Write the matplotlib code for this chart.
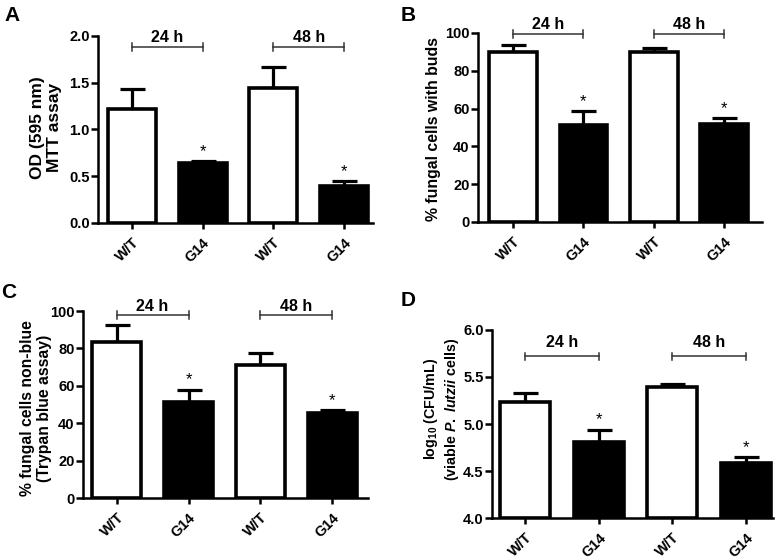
import matplotlib
matplotlib.use("Agg")
import matplotlib.pyplot as plt
import numpy as np

plt.rcParams['font.family'] = ['Liberation Sans', 'DejaVu Sans']
plt.rcParams['font.weight'] = 'bold'
plt.rcParams['mathtext.fontset'] = 'custom'
plt.rcParams['mathtext.rm'] = 'Liberation Sans:bold'
plt.rcParams['mathtext.bf'] = 'Liberation Sans:bold'
plt.rcParams['mathtext.it'] = 'Liberation Sans:italic:bold'

categories = ["W/T", "G14", "W/T", "G14"]
groups = ["24 h", "48 h"]

a_vals = [1.22, 0.64, 1.44, 0.40]
a_err = [0.21, 0.02, 0.23, 0.05]
b_vals = [89.9, 51.1, 90.0, 51.9]
b_err = [3.9, 7.5, 2.0, 3.1]
c_vals = [83.5, 51.2, 71.2, 45.3]
c_err = [9.2, 6.7, 6.2, 1.8]
d_vals = [5.23, 4.81, 5.39, 4.58]
d_err = [0.10, 0.13, 0.04, 0.07]

signif = [False, True, False, True]
fills = ["white", "black", "white", "black"]

fig = plt.figure(figsize=(7.79, 5.59), dpi=100)

panels = [
    dict(letter="A", vals=a_vals, err=a_err, rect=[0.1258, 0.6011, 0.353, 0.3345],
         ylim=(0, 2.0), ticks=np.arange(0, 2.01, 0.5), fmt="{:.1f}",
         xlim=(-0.48, 3.41), ylabel="OD (595 nm)\nMTT assay", brk=1.88, txt=1.985,
         letter_xy=(0.006, 0.99), base=0, yfs=12.5, lxy=(-0.19, 0.51), ls=1.2),
    dict(letter="B", vals=b_vals, err=b_err, rect=[0.6136, 0.6029, 0.3644, 0.3381],
         ylim=(0, 100), ticks=np.arange(0, 101, 20), fmt="{:.0f}",
         xlim=(-0.50, 3.54), ylabel="% fungal cells with buds", brk=99.6, txt=104.5,
         letter_xy=(0.514, 0.99), base=0, yfs=11.4, lxy=(-0.155, 0.49), ls=1.0),
    dict(letter="C", vals=c_vals, err=c_err, rect=[0.1065, 0.1091, 0.3659, 0.3345],
         ylim=(0, 100), ticks=np.arange(0, 101, 20), fmt="{:.0f}",
         xlim=(-0.47, 3.50), ylabel="% fungal cells non-blue\n(Trypan blue assay)", brk=97.9, txt=102.3,
         letter_xy=(0.002, 0.494), base=0, yfs=11.3, lxy=(-0.165, 0.48), ls=1.1),
    dict(letter="D", vals=d_vals, err=d_err, rect=[0.6316, 0.0733, 0.3607, 0.3364],
         ylim=(4.0, 6.0), ticks=np.arange(4.0, 6.01, 0.5), fmt="{:.1f}",
         xlim=(-0.45, 3.37), ylabel="log$_{10}$ (CFU/mL)\n(viable $\\mathit{P.\\ lutzii}$ cells)",
         brk=5.72, txt=5.865, letter_xy=(0.514, 0.48), base=4.0, yfs=10.3, lxy=(-0.18, 0.58), ls=1.25),
]

for p in panels:
    ax = fig.add_axes(p["rect"])
    x = np.arange(len(categories))
    base = p["base"]
    heights = [v - base for v in p["vals"]]
    ax.bar(x, heights, bottom=base, width=0.68, color=fills, edgecolor="black",
           linewidth=2.6, zorder=3)
    ax.errorbar(x, p["vals"], yerr=[np.zeros(4), p["err"]], fmt="none", ecolor="black",
                elinewidth=2.3, capsize=9, capthick=2.3, zorder=2)
    yr = p["ylim"][1] - p["ylim"][0]
    for i in range(4):
        if signif[i]:
            ax.text(x[i], p["vals"][i] + p["err"][i] + 0.012 * yr, "*", ha="center", va="bottom",
                    fontsize=12, fontweight="normal")
    for g in range(2):
        x0, x1 = 2 * g, 2 * g + 1
        ax.plot([x0, x1], [p["brk"], p["brk"]], color="#333333", lw=1.1, clip_on=False)
        for xx in (x0, x1):
            ax.plot([xx, xx], [p["brk"] - 0.02 * yr, p["brk"] + 0.02 * yr], color="#333333",
                    lw=1.1, clip_on=False)
        ax.text((x0 + x1) / 2, p["txt"], groups[g], ha="center", va="center", fontsize=11.5,
                fontweight="bold", clip_on=False)
    ax.set_xlim(*p["xlim"])
    ax.set_ylim(*p["ylim"])
    ax.set_xticks(x)
    ax.set_xticklabels(categories, rotation=45, ha="right", rotation_mode="anchor",
                       fontsize=10.5, fontweight="bold")
    ax.set_yticks(p["ticks"])
    ax.set_yticklabels([p["fmt"].format(t) for t in p["ticks"]], fontsize=10.5, fontweight="bold")
    ax.tick_params(axis="both", direction="out", width=1.8)
    ax.tick_params(axis="y", length=5, pad=1)
    ax.tick_params(axis="x", length=4, pad=5)
    for s in ("top", "right"):
        ax.spines[s].set_visible(False)
    for s in ("left", "bottom"):
        ax.spines[s].set_linewidth(1.8)
    ax.text(p["lxy"][0], p["lxy"][1], p["ylabel"], transform=ax.transAxes, rotation=90,
            ha="center", va="center", multialignment="center", fontsize=p["yfs"],
            fontweight="bold", linespacing=p["ls"])
    fig.text(p["letter_xy"][0], p["letter_xy"][1], p["letter"], fontsize=15, fontweight="bold",
             ha="left", va="top")

fig.savefig("out.png", dpi=100)
